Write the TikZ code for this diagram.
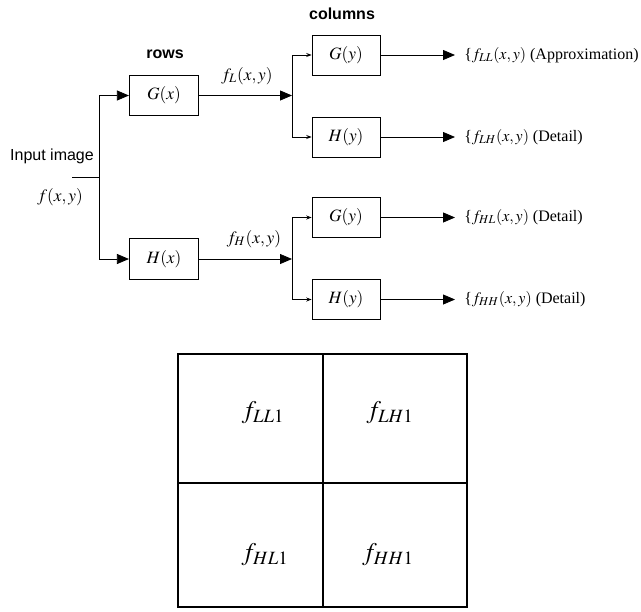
\documentclass[tikz,border=0pt]{standalone}
\usepackage{mathptmx}
\usepackage[no-math]{fontspec}
\setmainfont{Liberation Serif}
\newfontfamily\arialfont{Liberation Sans}
\usetikzlibrary{arrows.meta}
\begin{document}
\begin{tikzpicture}[x=0.75pt,y=-0.75pt,
  blk/.style={draw, line width=0.6pt, minimum width=52pt, minimum height=30.5pt, inner sep=0pt, font=\fontsize{13}{15}\selectfont},
  lbl/.style={font=\fontsize{12}{14}\selectfont, inner sep=0pt},
  mlbl/.style={font=\fontsize{13}{15}\selectfont, inner sep=0pt},
  sans/.style={font=\arialfont\fontsize{12}{14}\selectfont, inner sep=0pt},
  bsans/.style={font=\arialfont\bfseries\fontsize{12}{14}\selectfont, inner sep=0pt},
  big/.style={-{Triangle[length=9pt,width=7.5pt]}, line width=0.6pt},
  small/.style={-{Stealth[length=4pt,width=3pt]}, line width=0.6pt},
  wire/.style={line width=0.6pt},
  grid/.style={line width=1.2pt},
  cell/.style={font=\fontsize{19}{22}\selectfont, inner sep=0pt}]
\useasboundingbox (0,0) rectangle (641,611);
% row filters
\node[blk] (Gx) at (164,95.5) {$G(x)$};
\node[blk] (Hx) at (164,259) {$H(x)$};
% column filters
\node[blk, minimum width=51pt, minimum height=30pt] (Gy1) at (346,55) {$G(y)$};
\node[blk, minimum width=51pt, minimum height=30pt] (Hy1) at (346,137) {$H(y)$};
\node[blk, minimum width=51pt, minimum height=30pt] (Gy2) at (346,217.5) {$G(y)$};
\node[blk, minimum width=51pt, minimum height=30pt] (Hy2) at (346,299.5) {$H(y)$};
% labels
\node[sans] (inimg) at (52,156) {Input image};
\node[mlbl] (fxy) at (60,197) {$f(x,y)$};
\node[bsans] (rows) at (165,54) {rows};
\node[bsans] (cols) at (342,14) {columns};
\node[mlbl] (fL) at (247,76) {$f_L(x,y)$};
\node[mlbl] (fH) at (254,239) {$f_H(x,y)$};
% coordinates
\coordinate (in) at (72,177);
\coordinate (j) at (99,177);
\coordinate (s1) at (292,95.5);
\coordinate (s2) at (292,259);
\coordinate (o1) at (455,55);
\coordinate (o2) at (455,137);
\coordinate (o3) at (455,217.5);
\coordinate (o4) at (455,299.5);
% outputs
\node[lbl, anchor=west] (t1) at (464,55) {\{$f_{LL}(x,y)$ (Approximation)};
\node[lbl, anchor=west] (t2) at (464,137) {\{$f_{LH}(x,y)$ (Detail)};
\node[lbl, anchor=west] (t3) at (464,217.5) {\{$f_{HL}(x,y)$ (Detail)};
\node[lbl, anchor=west] (t4) at (464,299.5) {\{$f_{HH}(x,y)$ (Detail)};
% connectors
\draw[wire] (in) -- (j);
\draw[big] (j) |- (Gx.west);
\draw[big] (j) |- (Hx.west);
\draw[big] (Gx.east) -- (s1);
\draw[big] (Hx.east) -- (s2);
\draw[small] (s1) |- (Gy1.west);
\draw[small] (s1) |- (Hy1.west);
\draw[small] (s2) |- (Gy2.west);
\draw[small] (s2) |- (Hy2.west);
\draw[big] (Gy1.east) -- (o1);
\draw[big] (Hy1.east) -- (o2);
\draw[big] (Gy2.east) -- (o3);
\draw[big] (Hy2.east) -- (o4);
% subband square
\draw[grid] (178,354) rectangle (467,607);
\draw[grid] (323,354) -- (323,607);
\draw[grid] (178,483) -- (467,483);
\node[cell] (LL) at (263,413) {$f_{LL1}$};
\node[cell] (LH) at (390,413) {$f_{LH1}$};
\node[cell] (HL) at (265,555) {$f_{HL1}$};
\node[cell] (HH) at (388,555) {$f_{HH1}$};
\end{tikzpicture}
\end{document}
